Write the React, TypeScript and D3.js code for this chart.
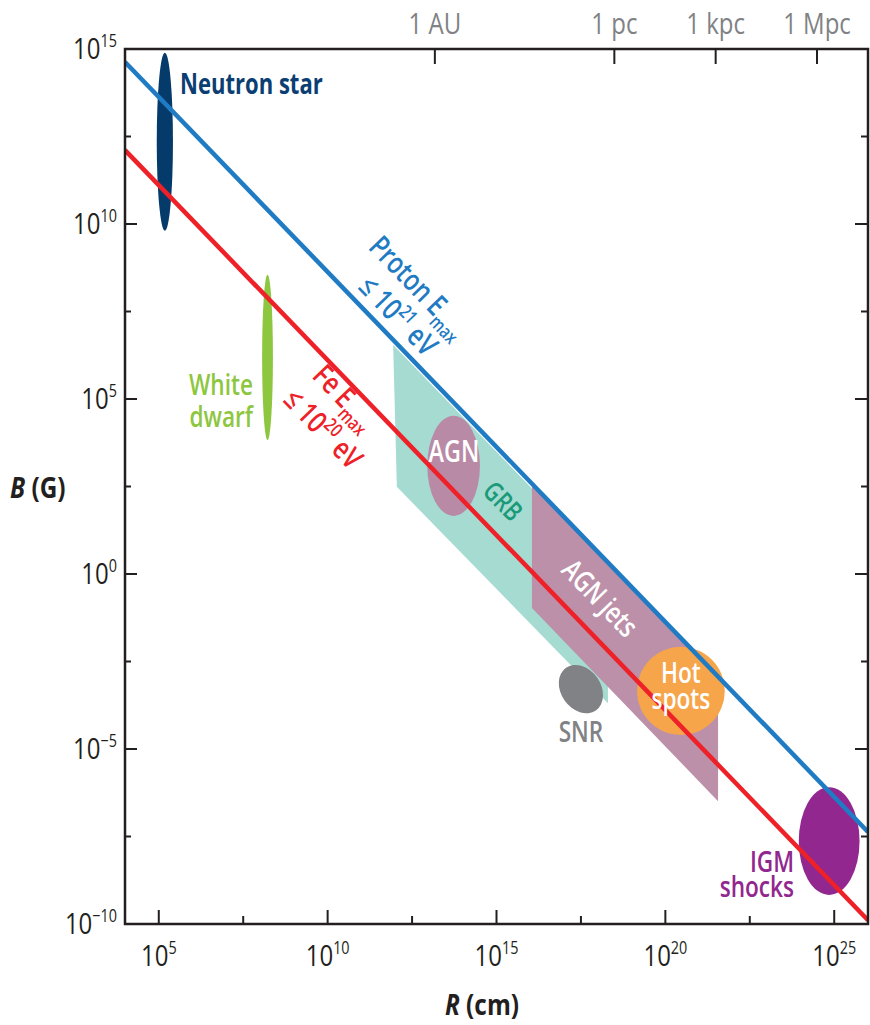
import * as d3 from "d3";

// log10 ranges shown by the axes
const R_DOMAIN = [4, 26]; // log10 R (cm)
const B_DOMAIN = [-10, 15]; // log10 B (G)

const xMajorTicks = [5, 10, 15, 20, 25];
const yMajorTicks = [-10, -5, 0, 5, 10, 15];
const yTickLabels = ["−10", "−5", "0", "5", "10", "15"];
const xTickLabels = ["5", "10", "15", "20", "25"];

// distance marks on the top axis, in cm
const distanceNames = ["1 AU", "1 pc", "1 kpc", "1 Mpc"];
const distanceCm = [1.496e13, 3.086e18, 3.086e21, 3.086e24];

// Hillas limit lines: [log R, log B] end points
const protonLine = [
  [4, 14.63],
  [26, -7.37],
];
const ironLine = [
  [4, 12.11],
  [26, -9.89],
];

// shaded source classes (log R, log B corners)
const grbRegion = [
  [11.94, 6.54],
  [12.05, 2.49],
  [18.3, -3.69],
  [18.3, 0.2],
];
const agnJetRegion = [
  [16.05, 2.54],
  [16.05, -0.97],
  [21.56, -6.49],
  [21.56, -2.97],
];

// compact sources: centre (log R, log B) and half-extent in decades
const sourceNames = ["Neutron star", "White dwarf", "AGN", "SNR", "Hot spots", "IGM shocks"];
const sourceLogR = [5.18, 8.22, 13.73, 17.5, 20.46, 24.85];
const sourceLogB = [12.35, 6.19, 3.09, -3.29, -3.34, -7.63];
const sourceHalfR = [0.24, 0.16, 0.78, 0.77, 1.3, 0.9];
const sourceHalfB = [2.54, 2.36, 1.43, 0.57, 1.26, 1.54];
const sourceTilt = [0, 0, 0, 55, 0, 0];
const sourceColors = ["#053b6b", "#8dc63f", "#b98aa5", "#808285", "#f7a54a", "#92278f"];

const W = 870;
const H = 1025;
const left = 125;
const right = 868;
const top = 49;
const bottom = 924;

const FONT = "'Open Sans', 'Noto Sans', sans-serif";
const SX = 0.78; // condensed look
const ANGLE = 46;

function T({ x, y, rot = 0, anchor = "start", size = 29, weight = 600, fill = "#231f20", sx = SX, children }: any) {
  return (
    <text
      transform={`translate(${x},${y}) rotate(${rot}) scale(${sx},1)`}
      textAnchor={anchor}
      fontSize={size}
      fontWeight={weight}
      fill={fill}
      fontFamily={FONT}
    >
      {children}
    </text>
  );
}

export default function App() {
  const x = d3.scaleLinear().domain(R_DOMAIN).range([left, right]);
  const y = d3.scaleLinear().domain(B_DOMAIN).range([bottom, top]);
  const line = d3
    .line<number[]>()
    .x((d) => x(d[0]))
    .y((d) => y(d[1]));
  const poly = (pts: number[][]) => line(pts) + "Z";

  const xAll = d3.range(5, 25.01, 2.5);
  const yAll = d3.range(-10, 15.01, 2.5);
  const isMajor = (v: number) => Math.abs(v % 5) < 1e-6;

  const sources = sourceNames.map((name, i) => ({
    name,
    cx: x(sourceLogR[i]),
    cy: y(sourceLogB[i]),
    rx: x(sourceLogR[i] + sourceHalfR[i]) - x(sourceLogR[i]),
    ry: y(sourceLogB[i] - sourceHalfB[i]) - y(sourceLogB[i]),
    tilt: sourceTilt[i],
    fill: sourceColors[i],
  }));

  const at = (r: number, b: number) => [x(r), y(b)];
  const frame = "#231f20";

  return (
    <svg width={W} height={H} style={{ position: "absolute", left: 0, top: 0, display: "block", background: "#fff" }}>
      <defs>
        <clipPath id="plotClip">
          <rect x={left} y={top} width={right - left} height={bottom - top} />
        </clipPath>
      </defs>

      <g clipPath="url(#plotClip)">
        <path d={poly(grbRegion)} fill="#a6dbd2" />
        <path d={poly(agnJetRegion)} fill="#bc90a9" />
        {sources.map((s) => (
          <ellipse
            key={s.name}
            cx={s.cx}
            cy={s.cy}
            rx={s.rx}
            ry={s.ry}
            fill={s.fill}
            transform={s.tilt ? `rotate(${s.tilt},${s.cx},${s.cy})` : undefined}
          />
        ))}
        <path d={line(protonLine) as string} stroke="#1f7bc3" strokeWidth={4.5} fill="none" />
        <path d={line(ironLine) as string} stroke="#ed2127" strokeWidth={4.5} fill="none" />
      </g>

      {/* source labels */}
      {(() => {
        const [nx, ny] = at(5.63, 13.71);
        return (
          <T x={nx} y={ny} weight={700} fill="#0b3e72" sx={0.76}>
            Neutron star
          </T>
        );
      })()}
      {(() => {
        const [wx, wy] = at(7.79, 5.11);
        return (
          <g>
            <T x={wx} y={wy} anchor="end" fill="#8dc63f">
              White
            </T>
            <T x={wx} y={wy + 32} anchor="end" fill="#8dc63f">
              dwarf
            </T>
          </g>
        );
      })()}
      {(() => {
        const [p1x, p1y] = at(11.17, 9.31);
        const [p2x, p2y] = at(10.87, 8.17);
        return (
          <g>
            <T x={p1x} y={p1y} rot={ANGLE} size={30} fill="#1f7bc3">
              Proton E<tspan dy={8} fontSize={19}>max</tspan>
            </T>
            <T x={p2x} y={p2y} rot={ANGLE} size={30} fill="#1f7bc3">
              ≤ 10<tspan dy={-12} fontSize={19}>21</tspan>
              <tspan dy={12}> eV</tspan>
            </T>
          </g>
        );
      })()}
      {(() => {
        const [f1x, f1y] = at(9.51, 5.63);
        const [f2x, f2y] = at(8.65, 4.94);
        return (
          <g>
            <T x={f1x} y={f1y} rot={ANGLE} size={30} fill="#ed2127">
              Fe E<tspan dy={8} fontSize={19}>max</tspan>
            </T>
            <T x={f2x} y={f2y} rot={ANGLE} size={30} fill="#ed2127">
              ≤ 10<tspan dy={-12} fontSize={19}>20</tspan>
              <tspan dy={12}> eV</tspan>
            </T>
          </g>
        );
      })()}
      {(() => {
        const [ax, ay] = at(13.74, 3.2);
        return (
          <T x={ax} y={ay} anchor="middle" size={30} fill="#fff">
            AGN
          </T>
        );
      })()}
      {(() => {
        const [gx, gy] = at(14.55, 2.33);
        return (
          <T x={gx} y={gy} rot={ANGLE} size={27} fill="#1a9a78">
            GRB
          </T>
        );
      })()}
      {(() => {
        const [jx, jy] = at(16.88, 0.08);
        return (
          <T x={jx} y={jy} rot={ANGLE} size={29} fill="#fff">
            AGN jets
          </T>
        );
      })()}
      {(() => {
        const [hx, hy] = at(20.46, -3.11);
        return (
          <g>
            <T x={hx} y={hy} anchor="middle" size={29} fill="#fff">
              Hot
            </T>
            <T x={hx} y={hy + 26} anchor="middle" size={29} fill="#fff">
              spots
            </T>
          </g>
        );
      })()}
      {(() => {
        const [sx, sy] = at(17.5, -4.8);
        return (
          <T x={sx} y={sy} anchor="middle" fill="#808285">
            SNR
          </T>
        );
      })()}
      {(() => {
        const [ix, iy] = at(23.81, -8.51);
        return (
          <g>
            <T x={ix} y={iy} anchor="end" fill="#92278f">
              IGM
            </T>
            <T x={ix} y={iy + 25} anchor="end" fill="#92278f">
              shocks
            </T>
          </g>
        );
      })()}

      {/* frame and ticks */}
      <rect x={left} y={top} width={right - left} height={bottom - top} fill="none" stroke={frame} strokeWidth={2.5} />
      {xAll.map((v) => (
        <line key={"xt" + v} x1={x(v)} x2={x(v)} y1={bottom} y2={bottom - (isMajor(v) ? 14 : 8)} stroke={frame} strokeWidth={2} />
      ))}
      {yAll.map((v) => (
        <g key={"yt" + v}>
          <line x1={left} x2={left + (isMajor(v) ? 12 : 6)} y1={y(v)} y2={y(v)} stroke={frame} strokeWidth={2} />
          <line x1={right} x2={right - (isMajor(v) ? 13 : 7)} y1={y(v)} y2={y(v)} stroke={frame} strokeWidth={2} />
        </g>
      ))}
      {distanceCm.map((cm, i) => (
        <g key={distanceNames[i]}>
          <line x1={x(Math.log10(cm))} x2={x(Math.log10(cm))} y1={top} y2={top + 15} stroke={frame} strokeWidth={2} />
          <T x={x(Math.log10(cm))} y={34} anchor="middle" size={30} weight={400} sx={0.8} fill="#808285">
            {distanceNames[i]}
          </T>
        </g>
      ))}

      {/* tick labels */}
      {yMajorTicks.map((v, i) => (
        <T key={"yl" + v} x={117} y={y(v) + 10} anchor="end" size={30} weight={400} sx={0.8}>
          10<tspan dy={-12} fontSize={18}>{yTickLabels[i]}</tspan>
        </T>
      ))}
      {xMajorTicks.map((v, i) => (
        <T key={"xl" + v} x={x(v)} y={966} anchor="middle" size={30} weight={400} sx={0.8}>
          10<tspan dy={-12} fontSize={18}>{xTickLabels[i]}</tspan>
        </T>
      ))}

      {/* axis titles */}
      <T x={10} y={498} weight={700} sx={0.84}>
        <tspan fontStyle="italic">B</tspan> (G)
      </T>
      <T x={482} y={1015} anchor="middle" weight={700} sx={0.84}>
        <tspan fontStyle="italic">R</tspan> (cm)
      </T>
    </svg>
  );
}
